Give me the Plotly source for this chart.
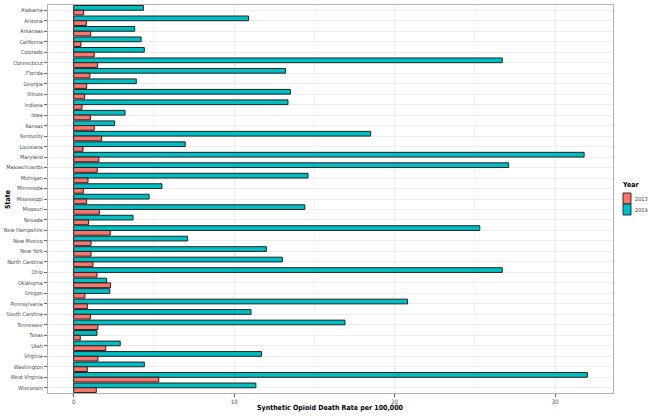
import plotly.graph_objects as go

states = ["Alabama", "Arizona", "Arkansas", "California", "Colorado", "Connecticut", "Florida",
          "Georgia", "Illinois", "Indiana", "Iowa", "Kansas", "Kentucky", "Louisiana", "Maryland",
          "Massachusetts", "Michigan", "Minnesota", "Mississippi", "Missouri", "Nevada",
          "New Hampshire", "New Mexico", "New York", "North Carolina", "Ohio", "Oklahoma", "Oregon",
          "Pennsylvania", "South Carolina", "Tennessee", "Texas", "Utah", "Virginia", "Washington",
          "West Virginia", "Wisconsin"]

rate_2013 = [0.62, 0.79, 1.06, 0.45, 1.28, 1.49, 1.01, 0.81, 0.68, 0.52, 1.04, 1.28, 1.74, 0.58,
             1.57, 1.47, 0.89, 0.60, 0.81, 1.60, 0.93, 2.28, 1.08, 1.08, 1.20, 1.45, 2.30, 0.70,
             0.85, 1.04, 1.51, 0.41, 2.00, 1.51, 0.85, 5.30, 1.41]

rate_2019 = [4.35, 10.9, 3.8, 4.2, 4.4, 26.7, 13.2, 3.9, 13.5, 13.35, 3.2, 2.55, 18.5, 6.95,
             31.8, 27.1, 14.6, 5.5, 4.7, 14.4, 3.7, 25.3, 7.1, 12.0, 13.0, 26.7, 2.05, 2.25,
             20.8, 11.05, 16.9, 1.45, 2.9, 11.7, 4.4, 32.0, 11.35]

x_ticks = [0, 10, 20, 30]
years = ["2013", "2019"]
colors = {"2013": "#F8766D", "2019": "#00BFC4"}

W, H = 650, 417
ML, MR, MT, MB = 48, 37, 5, 24
PW, PH = W - ML - MR, H - MT - MB


def px_x(x):
    return (x - ML) / PW


def px_y(y):
    return 1 - (y - MT) / PH


FONT = "Liberation Sans Narrow, DejaVu Sans Condensed, Liberation Sans, Arial, sans-serif"

fig = go.Figure()
fig.add_trace(go.Bar(
    y=states, x=rate_2019, orientation="h", name="2019", showlegend=False,
    marker=dict(color=colors["2019"], line=dict(color="#222222", width=1)),
))
fig.add_trace(go.Bar(
    y=states, x=rate_2013, orientation="h", name="2013", showlegend=False,
    marker=dict(color=colors["2013"], line=dict(color="#222222", width=1)),
))

shapes = []
annotations = []
# manual legend
box_tops = [193, 204]
for yr, top in zip(years, box_tops):
    shapes.append(dict(type="rect", xref="paper", yref="paper",
                       x0=px_x(623), x1=px_x(631), y0=px_y(top), y1=px_y(top + 11),
                       fillcolor=colors[yr], line=dict(color="#222222", width=0.9)))
    annotations.append(dict(text=yr, xref="paper", yref="paper", x=px_x(633), y=px_y(top + 5.5),
                            xanchor="left", yanchor="middle", showarrow=False,
                            font=dict(size=5.5, color="#333333", family=FONT)))
annotations.append(dict(text="<b>Year</b>", xref="paper", yref="paper", x=px_x(620), y=px_y(185),
                        xanchor="left", yanchor="middle", showarrow=False,
                        font=dict(size=7, color="black", family=FONT)))
annotations.append(dict(text="<b>Synthetic Opioid Death Rate per 100,000</b>", xref="paper",
                        yref="paper", x=px_x(330), y=px_y(408), xanchor="center", yanchor="middle",
                        showarrow=False, font=dict(size=7, color="black", family=FONT)))
annotations.append(dict(text="<b>State</b>", xref="paper", yref="paper", x=px_x(8), y=px_y(200),
                        xanchor="center", yanchor="middle", textangle=-90,
                        showarrow=False, font=dict(size=7, color="black", family=FONT)))

fig.update_layout(
    width=W, height=H,
    margin=dict(l=ML, r=MR, t=MT, b=MB),
    barmode="group", bargap=0.1, bargroupgap=0,
    paper_bgcolor="white", plot_bgcolor="white",
    font=dict(family=FONT, size=6, color="#4D4D4D"),
    showlegend=False,
    shapes=shapes, annotations=annotations,
    xaxis=dict(
        range=[-1.6, 33.6], tickvals=x_ticks, ticks="outside", ticklen=3,
        tickcolor="#666666", showgrid=True, gridcolor="#EDEDED", gridwidth=0.8,
        minor=dict(dtick=5, tick0=0, showgrid=True, gridcolor="#F5F5F5", gridwidth=0.5),
        zeroline=False, showline=True, linecolor="#B3B3B3", mirror=True, automargin=False,
        tickfont=dict(size=6, color="#4D4D4D", family=FONT),
    ),
    yaxis=dict(
        categoryorder="array", categoryarray=states, autorange="reversed",
        ticks="outside", ticklen=3, tickcolor="#666666",
        showgrid=True, gridcolor="#EDEDED", gridwidth=0.8, automargin=False,
        showline=True, linecolor="#B3B3B3", mirror=True,
        tickfont=dict(size=5.5, color="#4D4D4D", family=FONT),
    ),
)

fig.write_html("out.html", config={"displayModeBar": False},
               post_script="document.body.style.margin='0px';")
